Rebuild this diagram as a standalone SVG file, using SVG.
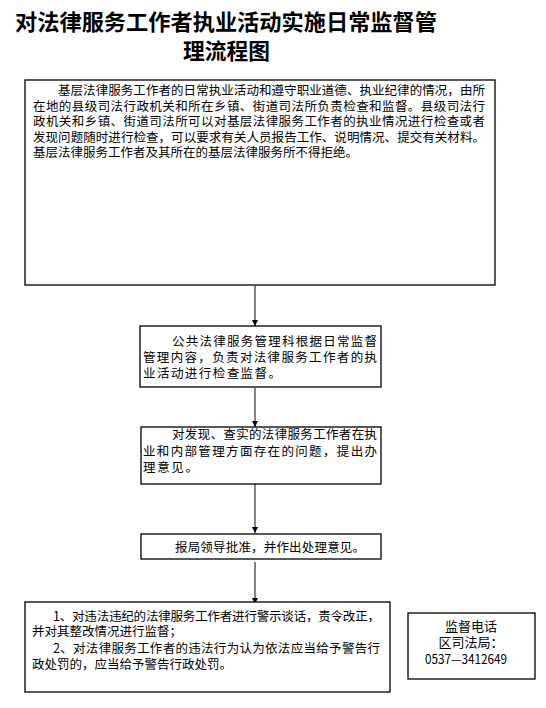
<svg xmlns="http://www.w3.org/2000/svg" width="546" height="708" viewBox="0 0 546 708">
<style>
.box{fill:#fff;stroke:#000;stroke-width:1.3}
.t{font-family:"Noto Sans CJK SC","Liberation Serif",serif;font-size:12.5px;fill:#000}
.title{font-family:"Noto Sans CJK SC","Liberation Sans",sans-serif;font-size:22px;font-weight:bold;fill:#000}
.c{stroke:#333;stroke-width:1.2;fill:none}
</style>
<defs>
<marker id="ah" viewBox="0 0 10 10" refX="10" refY="5" markerWidth="6" markerHeight="6" markerUnits="userSpaceOnUse" orient="auto">
<path d="M0,0 L10,5 L0,10 z" fill="#000"/>
</marker>
</defs>
<rect width="546" height="708" fill="#fff"/>
<g id="title">
<text class="title" x="15" y="30" textLength="422" lengthAdjust="spacingAndGlyphs">对法律服务工作者执业活动实施日常监督管</text>
<text class="title" x="183" y="59" textLength="87" lengthAdjust="spacingAndGlyphs">理流程图</text>
</g>
<g id="connectors">
<line class="c" x1="255" y1="286" x2="255" y2="326" marker-end="url(#ah)"/>
<line class="c" x1="255" y1="388" x2="255" y2="427" marker-end="url(#ah)"/>
<line class="c" x1="255" y1="476" x2="255" y2="533" marker-end="url(#ah)"/>
<line class="c" x1="255" y1="562" x2="255" y2="604" marker-end="url(#ah)"/>
</g>
<g id="n1">
<rect class="box" x="25" y="80" width="470" height="205"/>
<text class="t" x="58" y="95" textLength="427" lengthAdjust="spacing">基层法律服务工作者的日常执业活动和遵守职业道德、执业纪律的情况，由所</text>
<text class="t" x="33" y="111" textLength="452" lengthAdjust="spacing">在地的县级司法行政机关和所在乡镇、街道司法所负责检查和监督。县级司法行</text>
<text class="t" x="33" y="126" textLength="452" lengthAdjust="spacing">政机关和乡镇、街道司法所可以对基层法律服务工作者的执业情况进行检查或者</text>
<text class="t" x="33" y="142" textLength="452" lengthAdjust="spacing">发现问题随时进行检查，可以要求有关人员报告工作、说明情况、提交有关材料。</text>
<text class="t" x="33" y="157">基层法律服务工作者及其所在的基层法律服务所不得拒绝。</text>
</g>
<g id="n2">
<rect class="box" x="140" y="326" width="241" height="61"/>
<text class="t" x="172" y="346" textLength="205" lengthAdjust="spacing">公共法律服务管理科根据日常监督</text>
<text class="t" x="143" y="362" textLength="234" lengthAdjust="spacing">管理内容，负责对法律服务工作者的执</text>
<text class="t" x="143" y="378" textLength="138" lengthAdjust="spacing">业活动进行检查监督。</text>
</g>
<g id="n3">
<rect class="box" x="141" y="427" width="240" height="57"/>
<text class="t" x="172" y="439" textLength="205" lengthAdjust="spacing">对发现、查实的法律服务工作者在执</text>
<text class="t" x="143" y="456" textLength="234" lengthAdjust="spacing">业和内部管理方面存在的问题，提出办</text>
<text class="t" x="143" y="472" textLength="55" lengthAdjust="spacing">理意见。</text>
</g>
<g id="n4">
<rect class="box" x="141" y="534" width="240" height="25"/>
<text class="t" x="175" y="552" textLength="190" lengthAdjust="spacing">报局领导批准，并作出处理意见。</text>
</g>
<g id="n5">
<rect class="box" x="25" y="602" width="365" height="90"/>
<text class="t" x="53" y="621" textLength="327" lengthAdjust="spacing">1、对违法违纪的法律服务工作者进行警示谈话，责令改正，</text>
<text class="t" x="32" y="636">并对其整改情况进行监督；</text>
<text class="t" x="53" y="653" textLength="327" lengthAdjust="spacing">2、对法律服务工作者的违法行为认为依法应当给予警告行</text>
<text class="t" x="32" y="669">政处罚的，应当给予警告行政处罚。</text>
</g>
<g id="n6">
<rect class="box" x="408" y="613" width="127" height="66"/>
<text class="t" x="471" y="631" text-anchor="middle" style="font-size:13px">监督电话</text>
<text class="t" x="471" y="647" text-anchor="middle" style="font-size:13px">区司法局：</text>
<text class="t" x="425" y="664" textLength="82" lengthAdjust="spacingAndGlyphs" style="font-size:13px">0537—3412649</text>
</g>
</svg>
